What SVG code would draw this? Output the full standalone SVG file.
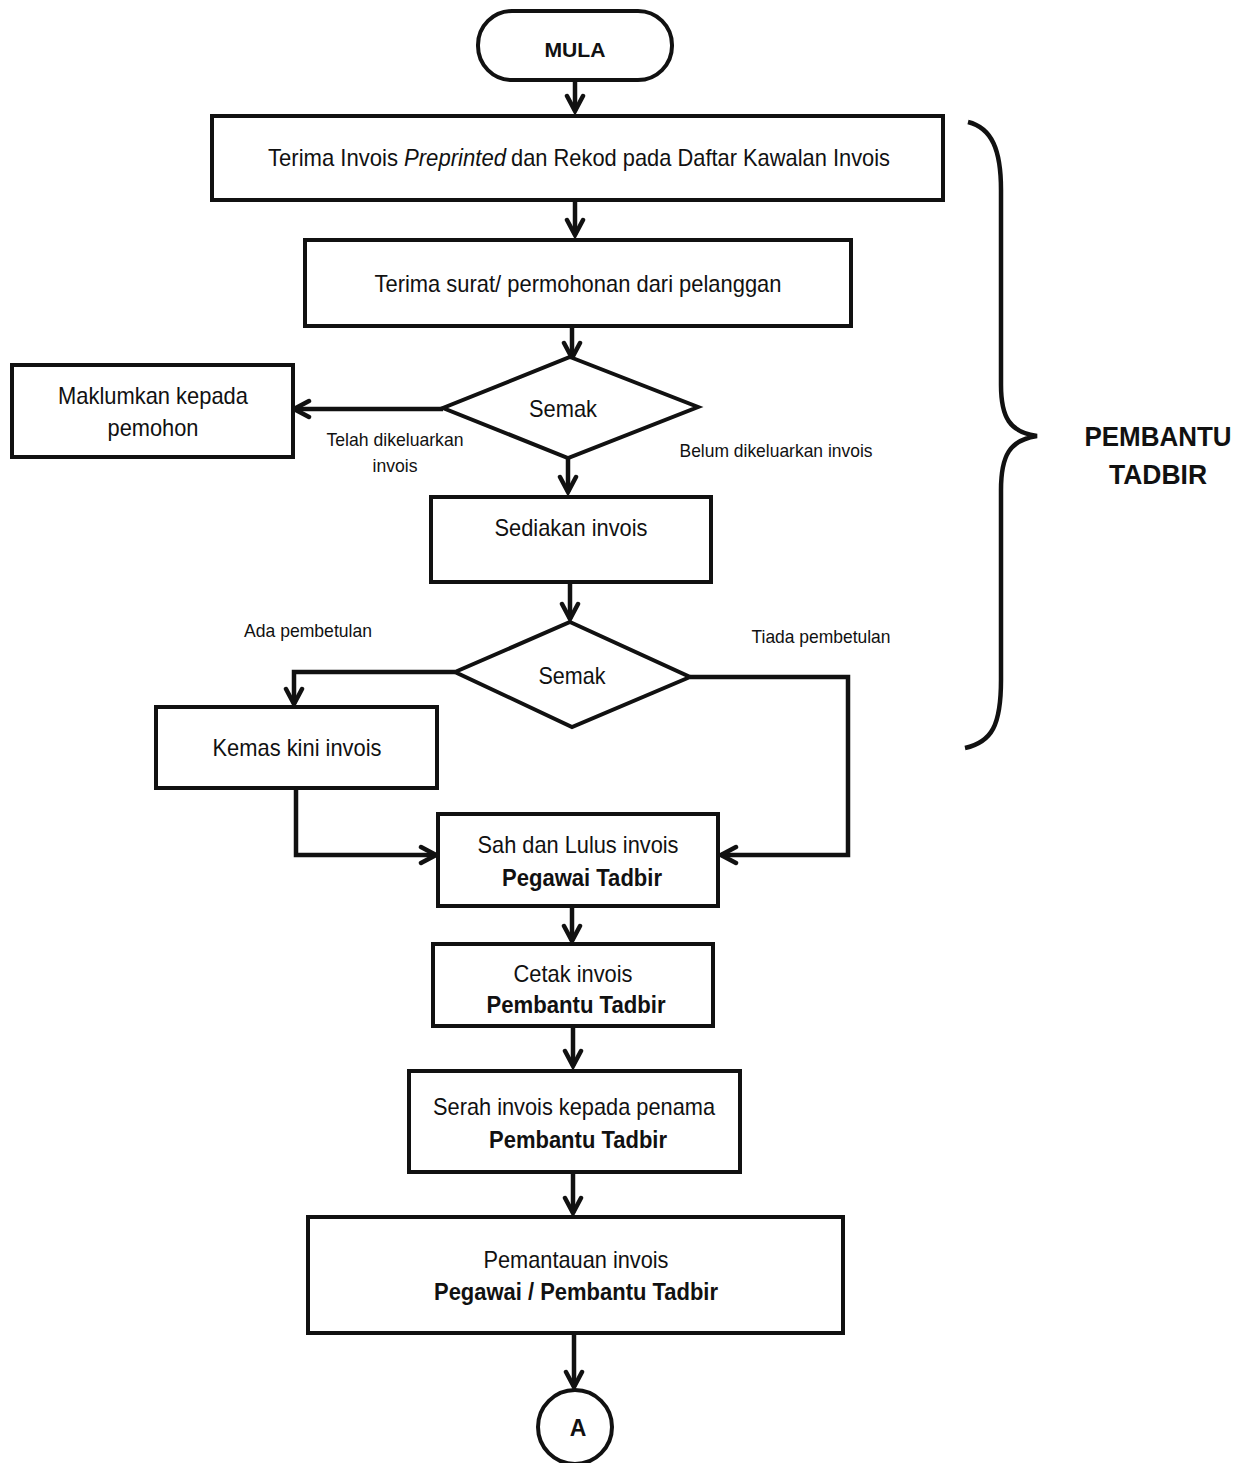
<svg xmlns="http://www.w3.org/2000/svg" width="1243" height="1463" viewBox="0 0 1243 1463">
<defs>
<style>
.box{fill:#fff;stroke:#111;stroke-width:4}
.ln{fill:none;stroke:#111;stroke-width:4.5;stroke-linejoin:miter}
.t{font-family:"Liberation Sans Narrow","Liberation Sans",Arial,sans-serif;fill:#111;text-anchor:middle}
.st{text-anchor:start}
.b{font-weight:bold}
.m{font-size:24px}
.s{font-size:19px}
</style>
<marker id="ah" viewBox="0 0 22 22" refX="19" refY="11" markerWidth="22" markerHeight="22" markerUnits="userSpaceOnUse" orient="auto">
<path d="M4,3 L19,11 L4,19" fill="none" stroke="#111" stroke-width="4.5" stroke-linecap="round" stroke-linejoin="miter"/>
</marker>
</defs>
<rect width="1243" height="1463" fill="#fff"/>

<g id="connectors">
<path class="ln" d="M575,82 V111" marker-end="url(#ah)"/>
<path class="ln" d="M575,200 V235" marker-end="url(#ah)"/>
<path class="ln" d="M572,326 V358" marker-end="url(#ah)"/>
<path class="ln" d="M443,409 H294" marker-end="url(#ah)"/>
<path class="ln" d="M568,458 V492" marker-end="url(#ah)"/>
<path class="ln" d="M570,582 V619" marker-end="url(#ah)"/>
<path class="ln" d="M455,672 H294 V704" marker-end="url(#ah)"/>
<path class="ln" d="M296,788 V855 H436" marker-end="url(#ah)"/>
<path class="ln" d="M690,677 H848 V855 H721" marker-end="url(#ah)"/>
<path class="ln" d="M572,906 V941" marker-end="url(#ah)"/>
<path class="ln" d="M573,1026 V1066" marker-end="url(#ah)"/>
<path class="ln" d="M573,1172 V1213" marker-end="url(#ah)"/>
<path class="ln" d="M574,1334 V1387" marker-end="url(#ah)"/>
</g>

<g id="mula">
<rect class="box" x="478" y="11" width="194" height="69" rx="34"/>
<text class="t b" x="575" y="57" font-size="21" textLength="61" lengthAdjust="spacingAndGlyphs">MULA</text>
</g>

<g id="terima-invois">
<rect class="box" x="212" y="116" width="731" height="84"/>
<text class="t m st" x="268" y="166" textLength="130" lengthAdjust="spacingAndGlyphs">Terima Invois</text>
<text class="t m st" x="404" y="166" font-style="italic" textLength="102" lengthAdjust="spacingAndGlyphs">Preprinted</text>
<text class="t m st" x="511" y="166" textLength="379" lengthAdjust="spacingAndGlyphs">dan Rekod pada Daftar Kawalan Invois</text>
</g>

<g id="terima-surat">
<rect class="box" x="305" y="240" width="546" height="86"/>
<text class="t m" x="578" y="292" textLength="407" lengthAdjust="spacingAndGlyphs">Terima surat/ permohonan dari pelanggan</text>
</g>

<g id="semak1">
<polygon class="box" points="570,357 698,407 568,458 443,408"/>
<text class="t m" x="563" y="417" textLength="68" lengthAdjust="spacingAndGlyphs">Semak</text>
</g>

<g id="maklumkan">
<rect class="box" x="12" y="365" width="281" height="92"/>
<text class="t m" x="153" y="404" textLength="190" lengthAdjust="spacingAndGlyphs">Maklumkan kepada</text>
<text class="t m" x="153" y="436" textLength="91" lengthAdjust="spacingAndGlyphs">pemohon</text>
</g>

<g id="labels1">
<text class="t s" x="395" y="446" textLength="137" lengthAdjust="spacingAndGlyphs">Telah dikeluarkan</text>
<text class="t s" x="395" y="472" textLength="45" lengthAdjust="spacingAndGlyphs">invois</text>
<text class="t s" x="776" y="457" textLength="193" lengthAdjust="spacingAndGlyphs">Belum dikeluarkan invois</text>
</g>

<g id="sediakan">
<rect class="box" x="431" y="497" width="280" height="85"/>
<text class="t m" x="571" y="536" textLength="153" lengthAdjust="spacingAndGlyphs">Sediakan invois</text>
</g>

<g id="semak2">
<polygon class="box" points="570,622 690,677 572,727 455,672"/>
<text class="t m" x="572" y="684" textLength="67" lengthAdjust="spacingAndGlyphs">Semak</text>
</g>

<g id="labels2">
<text class="t s" x="308" y="637" textLength="128" lengthAdjust="spacingAndGlyphs">Ada pembetulan</text>
<text class="t s" x="821" y="643" textLength="139" lengthAdjust="spacingAndGlyphs">Tiada pembetulan</text>
</g>

<g id="kemas-kini">
<rect class="box" x="156" y="707" width="281" height="81"/>
<text class="t m" x="297" y="756" textLength="169" lengthAdjust="spacingAndGlyphs">Kemas kini invois</text>
</g>

<g id="sah-lulus">
<rect class="box" x="438" y="814" width="280" height="92"/>
<text class="t m" x="578" y="853" textLength="201" lengthAdjust="spacingAndGlyphs">Sah dan Lulus invois</text>
<text class="t m b" x="582" y="886" textLength="160" lengthAdjust="spacingAndGlyphs">Pegawai Tadbir</text>
</g>

<g id="cetak">
<rect class="box" x="433" y="944" width="280" height="82"/>
<text class="t m" x="573" y="982" textLength="119" lengthAdjust="spacingAndGlyphs">Cetak invois</text>
<text class="t m b" x="576" y="1013" textLength="179" lengthAdjust="spacingAndGlyphs">Pembantu Tadbir</text>
</g>

<g id="serah">
<rect class="box" x="409" y="1071" width="331" height="101"/>
<text class="t m" x="574" y="1115" textLength="282" lengthAdjust="spacingAndGlyphs">Serah invois kepada penama</text>
<text class="t m b" x="578" y="1148" textLength="178" lengthAdjust="spacingAndGlyphs">Pembantu Tadbir</text>
</g>

<g id="pemantauan">
<rect class="box" x="308" y="1217" width="535" height="116"/>
<text class="t m" x="576" y="1268" textLength="185" lengthAdjust="spacingAndGlyphs">Pemantauan invois</text>
<text class="t m b" x="576" y="1300" textLength="284" lengthAdjust="spacingAndGlyphs">Pegawai / Pembantu Tadbir</text>
</g>

<g id="connector-a">
<circle class="box" cx="575" cy="1427" r="37"/>
<text class="t b" x="578" y="1436" font-size="23">A</text>
</g>

<g id="brace">
<path class="ln" d="M968,122 C992,128 1001,150 1001,190 L1001,385 C1001,418 1010,432 1037,436 C1010,440 1001,455 1001,490 L1001,680 C1001,725 992,742 965,748"/>
<text class="t b" x="1158" y="446" font-size="28" textLength="147" lengthAdjust="spacingAndGlyphs">PEMBANTU</text>
<text class="t b" x="1158" y="484" font-size="28" textLength="98" lengthAdjust="spacingAndGlyphs">TADBIR</text>
</g>
</svg>
